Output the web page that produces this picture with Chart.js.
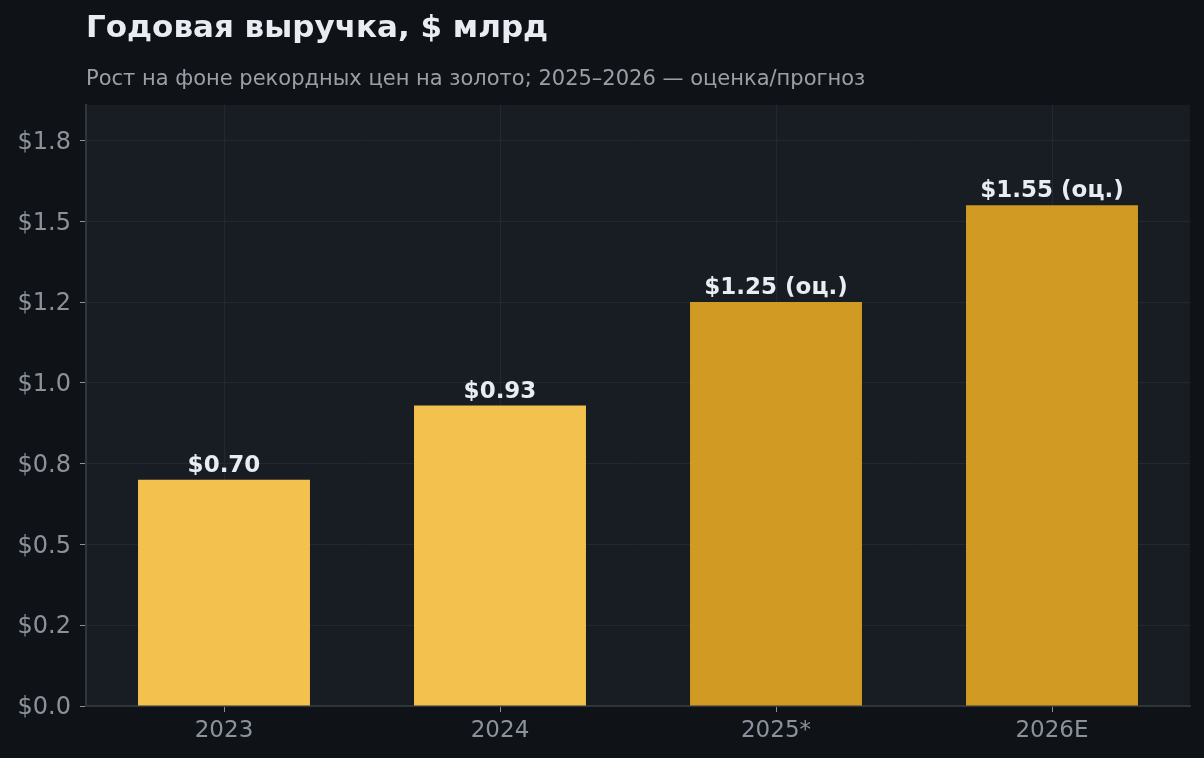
<!DOCTYPE html>
<html>
<head>
<meta charset="utf-8">
<script src="https://cdn.jsdelivr.net/npm/chart.js@4"></script>
<style>
  html, body { margin: 0; padding: 0; background: #0f1318; }
  #wrap { width: 1204px; height: 758px; }
</style>
</head>
<body>
<div id="wrap"><canvas id="revenueChart" width="1204" height="758"></canvas></div>
<script>
// data
const years = ['2023', '2024', '2025*', '2026E'];
const revenue = [0.70, 0.93, 1.25, 1.55];
const valueLabels = ['$0.70', '$0.93', '$1.25 (оц.)', '$1.55 (оц.)'];
const tickValues = [0, 0.25, 0.5, 0.75, 1.0, 1.25, 1.5, 1.75];
const tickLabels = ['$0.0', '$0.2', '$0.5', '$0.8', '$1.0', '$1.2', '$1.5', '$1.8'];

const barColors = ['#f2c14e', '#f2c14e', '#d19a22', '#d19a22'];
const FONT = "'DejaVu Sans', sans-serif";

// plot area background
const plotBg = {
    id: 'plotBg',
    beforeDraw(chart) {
        const { ctx, chartArea: a } = chart;
        ctx.save();
        ctx.fillStyle = '#181c23';
        ctx.fillRect(a.left, a.top, a.right - a.left, a.bottom - a.top);
        ctx.restore();
    }
};

// value labels above the bars
const barLabels = {
    id: 'barLabels',
    afterDatasetsDraw(chart) {
        const { ctx } = chart;
        const meta = chart.getDatasetMeta(0);
        ctx.save();
        ctx.font = `bold 23px ${FONT}`;
        ctx.fillStyle = '#e9edf3';
        ctx.textAlign = 'center';
        ctx.textBaseline = 'alphabetic';
        meta.data.forEach((bar, i) => {
            ctx.fillText(valueLabels[i], bar.x, bar.y - 8);
        });
        ctx.restore();
    }
};

new Chart(document.getElementById('revenueChart'), {
    type: 'bar',
    data: {
        labels: years,
        datasets: [{
            data: revenue,
            backgroundColor: barColors,
            borderWidth: 0,
            barPercentage: 0.623,
            categoryPercentage: 1.0
        }]
    },
    options: {
        responsive: false,
        animation: false,
        devicePixelRatio: 1,
        layout: { padding: { left: 0, right: 14, top: 0, bottom: 0 } },
        plugins: {
            legend: { display: false },
            tooltip: { enabled: false },
            title: {
                display: true,
                text: 'Годовая выручка, $ млрд',
                align: 'start',
                fullSize: false,
                color: '#e9edf3',
                font: { family: FONT, size: 31, weight: 'bold', lineHeight: 1.2 },
                padding: { top: 10, bottom: 0 }
            },
            subtitle: {
                display: true,
                text: 'Рост на фоне рекордных цен на золото; 2025–2026 — оценка/прогноз',
                align: 'start',
                fullSize: false,
                color: '#9aa0a8',
                font: { family: FONT, size: 21, lineHeight: 1.2 },
                padding: { top: 20.2, bottom: 12.4 }
            }
        },
        scales: {
            x: {
                offset: true,
                grid: {
                    offset: false,
                    color: '#232731',
                    tickColor: '#8b929c',
                    tickLength: 6,
                    lineWidth: 1
                },
                border: { display: true, color: '#30343c', width: 2 },
                ticks: {
                    color: '#8b929c',
                    font: { family: FONT, size: 23 },
                    padding: 5
                },
                afterFit(scale) { scale.height = 52; }
            },
            y: {
                min: 0,
                max: 1.86,
                grid: {
                    color: '#232731',
                    tickColor: '#8b929c',
                    tickLength: 6,
                    lineWidth: 1
                },
                border: { display: true, color: '#30343c', width: 2 },
                ticks: {
                    color: '#8b929c',
                    font: { family: FONT, size: 24 },
                    padding: 9,
                    labelOffset: 2,
                    callback: (v, i) => tickLabels[i]
                },
                afterBuildTicks(scale) {
                    scale.ticks = tickValues.map(v => ({ value: v }));
                },
                afterFit(scale) { scale.width = 86; }
            }
        }
    },
    plugins: [plotBg, barLabels]
});
</script>
</body>
</html>
